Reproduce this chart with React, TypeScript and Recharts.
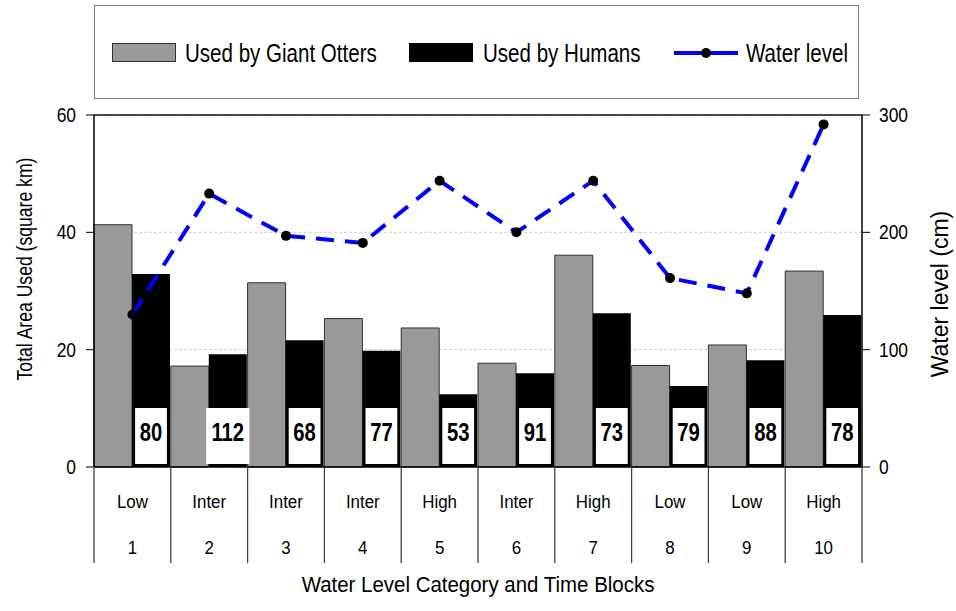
import React from 'react'
import {
  Bar,
  CartesianGrid,
  ComposedChart,
  Label,
  LabelList,
  Legend,
  Line,
  ReferenceLine,
  XAxis,
  YAxis,
} from 'recharts'

const timeBlocks = ['1', '2', '3', '4', '5', '6', '7', '8', '9', '10']
const levelCategory = ['Low', 'Inter', 'Inter', 'Inter', 'High', 'Inter', 'High', 'Low', 'Low', 'High']
const otterArea = [41.3, 17.2, 31.4, 25.3, 23.7, 17.7, 36.1, 17.3, 20.8, 33.4]
const humanArea = [32.9, 19.2, 21.6, 19.8, 12.4, 16.0, 26.2, 13.8, 18.2, 25.9]
const waterLevel = [130, 233, 197, 191, 244, 200, 244, 161, 148, 292]
const boxValues = [80, 112, 68, 77, 53, 91, 73, 79, 88, 78]
const areaTicks = [0, 20, 40, 60]
const levelTicks = [0, 100, 200, 300]

const data = timeBlocks.map((block, i) => ({
  block,
  level: levelCategory[i],
  otters: otterArea[i],
  humans: humanArea[i],
  water: waterLevel[i],
  box: boxValues[i],
}))

const FONT = '"Liberation Sans", Arial, sans-serif'

// text squeezed horizontally, like the original export
const Txt = ({ x, y, size, sx = 1, rotate = 0, anchor = 'middle', bold = false, children }: any) => (
  <text
    transform={`translate(${x} ${y}) rotate(${rotate}) scale(${sx} 1)`}
    textAnchor={anchor}
    dominantBaseline="central"
    fontFamily={FONT}
    fontSize={size}
    fontWeight={bold ? 'bold' : 'normal'}
    fill="#000"
  >
    {children}
  </text>
)

const CategoryTick = (props: any) => {
  const { x, y, payload, index } = props
  const half = payload && payload.offset ? payload.offset : 38.4
  const last = index === timeBlocks.length - 1
  return (
    <g>
      <line x1={x - half} x2={x - half} y1={y} y2={y + 96} stroke="#444" strokeWidth={1.3} />
      {last && <line x1={x + half} x2={x + half} y1={y} y2={y + 96} stroke="#444" strokeWidth={1.3} />}
      <Txt x={x} y={y + 35} size={19} sx={0.89}>
        {levelCategory[index]}
      </Txt>
      <Txt x={x} y={y + 81} size={19} sx={0.89}>
        {payload.value}
      </Txt>
    </g>
  )
}

const LeftTick = (props: any) => (
  <Txt x={props.x} y={props.y} size={20} sx={0.87} anchor="end">
    {props.payload.value}
  </Txt>
)

const RightTick = (props: any) => (
  <Txt x={props.x} y={props.y} size={20} sx={0.87} anchor="start">
    {props.payload.value}
  </Txt>
)

const BoxLabel = (props: any) => {
  const { x, y, width, height, value } = props
  const cx = x + width / 2
  const base = y + height
  const w = String(value).length * 11.4 + 9
  return (
    <g>
      <rect x={cx - w / 2} y={base - 59} width={w} height={56} fill="#fff" />
      <Txt x={cx} y={base - 35} size={25} sx={0.81} bold>
        {value}
      </Txt>
    </g>
  )
}

const legendText = { position: 'absolute' as const, top: 29, fontFamily: FONT, fontSize: 26, lineHeight: '36px', transform: 'scaleX(0.79)', transformOrigin: 'left center', whiteSpace: 'nowrap' as const }

const renderLegend = (props: any) => {
  const payload = props.payload || []
  const name = (key: string) => (payload.find((p: any) => p.dataKey === key) || {}).value
  return (
    <div style={{ position: 'relative', width: 765, height: 94, border: '1.5px solid #7a7a7a', boxSizing: 'border-box', background: '#fff' }}>
      <div style={{ position: 'absolute', left: 17, top: 37, width: 64, height: 19, background: '#999', border: '1px solid #333', boxSizing: 'border-box' }} />
      <span style={{ ...legendText, left: 90 }}>{name('otters')}</span>
      <div style={{ position: 'absolute', left: 314, top: 37, width: 64, height: 19, background: '#000' }} />
      <span style={{ ...legendText, left: 388 }}>{name('humans')}</span>
      <svg style={{ position: 'absolute', left: 579, top: 37 }} width={64} height={20}>
        <line x1={0} x2={64} y1={10} y2={10} stroke="#0000ff" strokeWidth={4} />
        <circle cx={32} cy={10} r={5} fill="#000" />
      </svg>
      <span style={{ ...legendText, left: 651 }}>{name('water')}</span>
    </div>
  )
}

export default function App() {
  return (
    <div style={{ position: 'absolute', left: 0, top: 0, background: '#fff' }}>
      <ComposedChart
        width={956}
        height={611}
        data={data}
        margin={{ top: 115, right: 0, bottom: 0, left: 0 }}
        barCategoryGap={0}
        barGap={0}
      >
        <CartesianGrid yAxisId="left" vertical={false} stroke="#cfcfcf" strokeDasharray="3 2" />
        <XAxis
          dataKey="block"
          height={144}
          tickSize={0}
          tickMargin={0}
          tickLine={false}
          interval={0}
          axisLine={{ stroke: '#000', strokeWidth: 1.5 }}
          tick={CategoryTick}
        >
          <Label
            content={(p: any) => (
              <Txt x={p.viewBox.x + p.viewBox.width / 2} y={p.viewBox.y + 118} size={22} sx={0.93}>
                Water Level Category and Time Blocks
              </Txt>
            )}
          />
        </XAxis>
        <YAxis
          yAxisId="left"
          width={94}
          domain={[0, 60]}
          ticks={areaTicks}
          tickSize={8}
          tickMargin={10}
          axisLine={{ stroke: '#000', strokeWidth: 1.5 }}
          tickLine={{ stroke: '#000' }}
          tick={LeftTick}
        >
          <Label
            content={(p: any) => (
              <Txt x={p.viewBox.x + 24} y={p.viewBox.y + p.viewBox.height / 2 - 22} size={22} sx={0.8} rotate={-90}>
                Total Area Used (square km)
              </Txt>
            )}
          />
        </YAxis>
        <YAxis
          yAxisId="right"
          orientation="right"
          width={94}
          domain={[0, 300]}
          ticks={levelTicks}
          tickSize={8}
          tickMargin={9}
          axisLine={{ stroke: '#000', strokeWidth: 1.5 }}
          tickLine={{ stroke: '#000' }}
          tick={RightTick}
        >
          <Label
            content={(p: any) => (
              <Txt x={p.viewBox.x + 78} y={p.viewBox.y + p.viewBox.height / 2 + 3} size={23} rotate={-90}>
                Water level (cm)
              </Txt>
            )}
          />
        </YAxis>
        <ReferenceLine yAxisId="left" y={60} stroke="#111" strokeWidth={1.5} />
        <Legend
          layout="horizontal"
          verticalAlign="middle"
          align="center"
          content={renderLegend}
          wrapperStyle={{ top: 5, left: 94, width: 765, height: 94 }}
        />
        <Bar yAxisId="left" dataKey="otters" name="Used by Giant Otters" fill="#999999" stroke="#333" strokeWidth={1} isAnimationActive={false} />
        <Bar yAxisId="left" dataKey="humans" name="Used by Humans" fill="#000" isAnimationActive={false}>
          <LabelList dataKey="box" content={BoxLabel} />
        </Bar>
        <Line
          yAxisId="right"
          type="linear"
          dataKey="water"
          name="Water level"
          stroke="#0000ff"
          strokeWidth={4}
          strokeDasharray="18 11"
          dot={{ r: 5, fill: '#000', stroke: '#000', strokeWidth: 0 }}
          isAnimationActive={false}
        />
      </ComposedChart>
    </div>
  )
}
